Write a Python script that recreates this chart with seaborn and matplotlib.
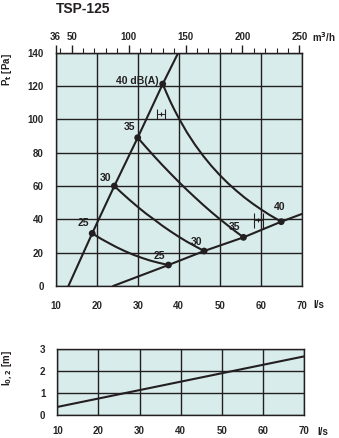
import matplotlib
matplotlib.use("Agg")
import matplotlib.pyplot as plt
from matplotlib.ticker import MultipleLocator, FixedLocator
import numpy as np
import pandas as pd
import seaborn as sns

# ---------------- data ----------------
title = "TSP-125"
# system (damper) line through the upper intersection points
steep_x = [13.1, 18.9, 24.3, 30.0, 36.1, 39.9]
steep_y = [0.0, 31.6, 60.0, 89.0, 121.2, 140.0]
# lower line
low_x = [24.0, 37.5, 46.2, 55.8, 65.0, 70.0]
low_y = [0.0, 12.6, 21.0, 29.2, 38.6, 43.2]
# iso-noise curves (dB(A))
iso25_x = [18.9, 21.0, 23.0, 25.0, 27.0, 29.0, 31.0, 33.0, 35.0, 37.5]
iso25_y = [31.6, 28.4, 25.7, 23.1, 20.8, 18.7, 16.9, 15.3, 14.0, 12.6]
iso30_x = [24.3, 26.0, 28.0, 30.0, 32.0, 34.0, 36.0, 38.0, 40.0, 42.0, 44.0, 46.2]
iso30_y = [60.0, 56.1, 51.7, 47.5, 43.5, 39.9, 36.2, 32.8, 29.6, 26.6, 23.9, 21.0]
iso35_x = [30.0, 32.0, 34.0, 36.0, 38.0, 40.0, 42.0, 44.0, 46.0, 48.0, 50.0, 52.0, 54.0, 55.8]
iso35_y = [89.0, 83.4, 77.9, 72.6, 67.5, 62.5, 57.7, 53.1, 48.6, 44.3, 40.2, 36.3, 32.5, 29.2]
iso40_x = [36.1, 37.0, 38.0, 39.0, 40.0, 42.0, 44.0, 46.0, 48.0, 50.0, 52.0, 54.0,
           56.0, 58.0, 60.0, 62.0, 65.0]
iso40_y = [121.2, 116.0, 110.5, 105.5, 100.8, 92.2, 84.7, 78.0, 72.0, 66.6, 61.7, 57.3,
           53.2, 49.5, 46.1, 42.9, 38.6]
# labels
up_labels = ["25", "30", "35", "40 dB(A)"]
up_lab_x = [18.2, 23.5, 29.3, 35.0]
up_lab_y = [38.0, 65.0, 95.2, 123.0]
low_labels = ["25", "30", "35", "40"]
low_lab_x = [35.4, 44.4, 53.6, 64.7]
low_lab_y = [18.0, 26.6, 35.6, 47.2]
# tolerance markers
tol_x = [35.6, 59.4]
tol_y = [103.5, 39.5]
tol_dx = [1.0, 1.15]
# throw chart
throw_x = [10, 70]
throw_y = [0.38, 2.68]
# axes ticks
x_ticks = [10, 20, 30, 40, 50, 60, 70]
p_ticks = [0, 20, 40, 60, 80, 100, 120, 140]
top_ticks = [36, 50, 100, 150, 200, 250]
l_ticks = [0, 1, 2, 3]

# ---------------- style ----------------
sns.set_style("white")
plt.rcParams["font.family"] = ["Liberation Sans", "DejaVu Sans"]
plt.rcParams["font.weight"] = "bold"
ink = "#231f20"
bg = "#d8edeb"
FS = 7

fig = plt.figure(figsize=(3.39, 4.38), dpi=100)


def style_axes(a, pad_x):
    a.set_facecolor(bg)
    a.grid(True, which="major", color=ink, lw=1.0)
    a.set_axisbelow(True)
    for s in a.spines.values():
        s.set_color(ink)
        s.set_linewidth(1.0)
    a.tick_params(axis="x", which="major", length=4, width=1, color=ink,
                  pad=pad_x, labelsize=FS, direction="out")
    a.tick_params(axis="x", which="minor", length=3.3, width=0.8, color=ink, direction="out")
    a.tick_params(axis="y", which="major", length=7, width=1, color=ink,
                  pad=1.5, labelsize=FS, direction="out")
    a.tick_params(axis="y", which="minor", length=3.5, width=0.8, color=ink, direction="out")
    a.set_xlabel("")
    a.set_ylabel("")


ax = fig.add_axes([0.1643, 0.3470, 0.7257, 0.5327])
ax.set_xlim(10, 70)
ax.set_ylim(0, 140)
ax.xaxis.set_major_locator(FixedLocator(x_ticks))
ax.xaxis.set_minor_locator(MultipleLocator(2))
ax.yaxis.set_major_locator(FixedLocator(p_ticks))
ax.yaxis.set_minor_locator(MultipleLocator(5))

lw = 1.5
for xs, ys in [(steep_x, steep_y), (low_x, low_y), (iso25_x, iso25_y),
               (iso30_x, iso30_y), (iso35_x, iso35_y), (iso40_x, iso40_y)]:
    sns.lineplot(x=xs, y=ys, sort=False, estimator=None, color=ink, lw=lw, ax=ax)

pts = pd.DataFrame({"x": steep_x[1:5] + low_x[1:5], "y": steep_y[1:5] + low_y[1:5]})
sns.scatterplot(data=pts, x="x", y="y", s=24, color=ink, edgecolor="none", ax=ax, zorder=5)

for t, x, y in zip(up_labels, up_lab_x, up_lab_y):
    ax.text(x, y, t, ha="right", va="center", fontsize=FS + 0.5, color=ink, weight="bold")
for t, x, y in zip(low_labels, low_lab_x, low_lab_y):
    ax.text(x, y, t, ha="center", va="center", fontsize=FS + 0.5, color=ink, weight="bold")

caps = [3.6, 5.4]
for x, y, dx, c in zip(tol_x, tol_y, tol_dx, caps):
    ax.errorbar([x], [y], xerr=[dx], fmt="+", ms=3.5, color=ink, elinewidth=0.6,
                capsize=c, capthick=0.8, mew=0.8)

style_axes(ax, 6.5)

# top axis in m3/h
top = ax.secondary_xaxis("top", functions=(lambda q: q * 3.6, lambda m: m / 3.6))
top.xaxis.set_major_locator(FixedLocator(top_ticks))
top.xaxis.set_minor_locator(FixedLocator(list(range(40, 251, 10))))
top.tick_params(axis="x", which="major", length=5.5, width=1, color=ink, pad=2, labelsize=FS)
top.tick_params(axis="x", which="minor", length=3.5, width=0.8, color=ink)
top.spines["top"].set_color(ink)

fig.text(0.165, 0.995, title, ha="left", va="top", fontsize=10, weight="bold", color=ink)
fig.text(0.92, 0.915, "m$^{\\mathbf{3}}$/h", ha="left", va="center", fontsize=FS, weight="bold", color=ink)
fig.text(0.925, 0.304, "l/s", ha="left", va="center", fontsize=FS, weight="bold", color=ink)
fig.text(0.022, 0.84, "P$_{\\mathbf{t}}$ [Pa]", rotation=90, ha="center", va="center",
         fontsize=FS, weight="bold", color=ink)

# ---------------- throw chart ----------------
ax2 = fig.add_axes([0.169, 0.0518, 0.7286, 0.1507])
ax2.set_xlim(10, 70)
ax2.set_ylim(0, 3)
ax2.xaxis.set_major_locator(FixedLocator(x_ticks))
ax2.xaxis.set_minor_locator(MultipleLocator(2))
ax2.yaxis.set_major_locator(FixedLocator(l_ticks))
ax2.yaxis.set_minor_locator(MultipleLocator(0.25))
sns.lineplot(x=throw_x, y=throw_y, color=ink, lw=lw, ax=ax2)
style_axes(ax2, 3.7)
fig.text(0.935, 0.014, "l/s", ha="left", va="center", fontsize=FS, weight="bold", color=ink)
fig.text(0.022, 0.16, "l$_{\\mathbf{0,2}}$ [m]", rotation=90, ha="center", va="center",
         fontsize=FS, weight="bold", color=ink)

fig.savefig("out.png", dpi=100)
